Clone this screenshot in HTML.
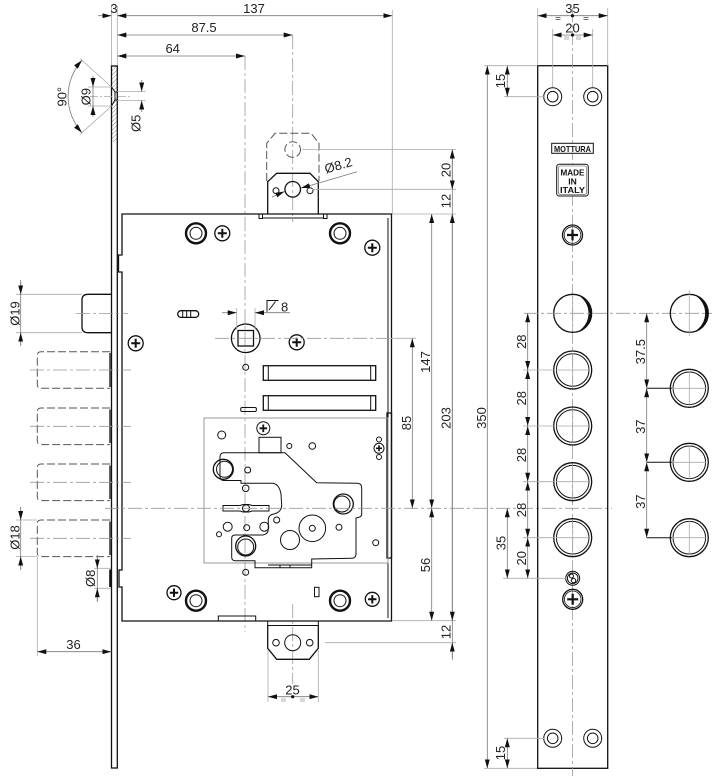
<!DOCTYPE html>
<html><head><meta charset="utf-8"><style>
html,body{margin:0;padding:0;background:#fff;}
svg{display:block;}
.o{stroke:#111;stroke-width:1.3;fill:none;}
.ot{stroke:#111;stroke-width:1;fill:none;}
.d{stroke:#777;stroke-width:0.8;fill:none;}
.e{stroke:#aaa;stroke-width:0.8;fill:none;}
.c{stroke:#999;stroke-width:0.8;fill:none;stroke-dasharray:14 3 3 3;}
.h{stroke:#555;stroke-width:1;fill:none;stroke-dasharray:8 3;}
.rv{stroke:#111;stroke-width:2.4;fill:none;}
text{font-family:"Liberation Sans","DejaVu Sans",sans-serif;font-size:13px;fill:#222;}
.lb{font-weight:bold;font-size:8.5px;fill:#111;}
</style></head><body>
<svg width="726" height="776" viewBox="0 0 726 776" xmlns="http://www.w3.org/2000/svg">
<defs>
<marker id="ar" viewBox="0 0 9 5" refX="9" refY="2.5" markerWidth="9" markerHeight="5" markerUnits="userSpaceOnUse" orient="auto-start-reverse"><path d="M0,0L9,2.5L0,5z" fill="#111"/></marker>
<pattern id="hatch" width="3" height="3" patternUnits="userSpaceOnUse" patternTransform="rotate(45)"><line x1="0" y1="0" x2="0" y2="3" stroke="#666" stroke-width="0.8"/></pattern>
</defs>

<!-- ============ TOP DIMENSIONS ============ -->
<line class="e" x1="111.5" y1="6" x2="111.5" y2="66"/>
<line class="e" x1="117.3" y1="6" x2="117.3" y2="66"/>
<line class="e" x1="392.3" y1="10" x2="392.3" y2="214"/>
<line class="d" x1="98" y1="15.7" x2="111.5" y2="15.7" marker-end="url(#ar)"/>
<line class="d" x1="117.3" y1="15.7" x2="392.3" y2="15.7" marker-start="url(#ar)" marker-end="url(#ar)"/>
<line class="d" x1="117.3" y1="35" x2="292.7" y2="35" marker-start="url(#ar)" marker-end="url(#ar)"/>
<line class="d" x1="117.3" y1="56" x2="245" y2="56" marker-start="url(#ar)" marker-end="url(#ar)"/>
<text x="114" y="13" text-anchor="middle">3</text>
<text x="254" y="13" text-anchor="middle">137</text>
<text x="204" y="32" text-anchor="middle">87.5</text>
<text x="172.7" y="53" text-anchor="middle">64</text>

<!-- centre lines -->
<line class="c" x1="245" y1="56" x2="245" y2="632"/>
<line class="c" x1="292.7" y1="35" x2="292.7" y2="222"/>
<line class="c" x1="292.7" y1="604" x2="292.7" y2="684"/>

<!-- ============ LEFT FACEPLATE ============ -->
<path d="M111.5,66 L117.3,66 L117.3,92 L115,92 L111.5,87 Z" fill="url(#hatch)" stroke="none"/>
<path d="M111.5,106 L115,100 L117.3,100 L117.3,142 L111.5,142 Z" fill="url(#hatch)" stroke="none"/>
<rect class="o" x="111.5" y="66" width="5.8" height="702"/>
<path class="ot" d="M111.5,87 L115,92 L117.3,92 M111.5,106 L115,100 L117.3,100 M115,92 L115,100"/>
<line class="e" x1="90" y1="96.6" x2="132" y2="96.6" stroke-dasharray="8 2 2 2"/>
<!-- 90 deg -->
<line class="e" x1="111.5" y1="87" x2="80" y2="58.5"/>
<line class="e" x1="111.5" y1="106" x2="80" y2="134.5"/>
<path class="d" d="M82,60.3 A54,54 0 0,0 82,132.7"/>
<path d="M82,60.3 L77.8,68.7 L74.1,65.3 Z M82,132.7 L77.8,124.3 L74.1,127.7 Z" fill="#111"/>
<text transform="translate(66.5,96.7) rotate(-90)" text-anchor="middle">90°</text>
<!-- dia 9 -->
<line class="e" x1="88" y1="87" x2="111.5" y2="87"/>
<line class="e" x1="88" y1="106" x2="111.5" y2="106"/>
<line class="d" x1="93" y1="87" x2="93" y2="106"/>
<line class="d" x1="93" y1="76" x2="93" y2="87" marker-end="url(#ar)"/>
<line class="d" x1="93" y1="117" x2="93" y2="106" marker-end="url(#ar)"/>
<text transform="translate(90.5,96.7) rotate(-90)" text-anchor="middle">Ø9</text>
<!-- dia 5 -->
<line class="e" x1="117.3" y1="91.5" x2="146" y2="91.5"/>
<line class="e" x1="117.3" y1="100.5" x2="146" y2="100.5"/>
<line class="d" x1="141.7" y1="80" x2="141.7" y2="91.5" marker-end="url(#ar)"/>
<line class="d" x1="141.7" y1="112" x2="141.7" y2="100.5" marker-end="url(#ar)"/>
<text transform="translate(140.5,123.3) rotate(-90)" text-anchor="middle">Ø5</text>

<!-- ============ LOCK BODY ============ -->
<path class="o" d="M122,214 L391.5,214 L391.5,621 L122,621 L122,587 L119,587 L119,570 L122,570 L122,272 L118.5,272 L118.5,255 L122,255 Z"/>
<line class="ot" x1="388" y1="218" x2="388" y2="618"/>
<rect class="o" x="387" y="413" width="4.5" height="145"/>
<!-- upper strike -->
<path class="o" d="M267.7,214 L267.7,181.7 L276.7,173.3 L310,173.3 L318.3,181.7 L318.3,214"/>
<line class="ot" x1="262" y1="218" x2="324" y2="218"/>
<rect class="ot" x="259" y="214" width="3.5" height="4.5"/>
<rect class="ot" x="323.5" y="214" width="3.5" height="4.5"/>
<circle class="o" cx="292.7" cy="189.3" r="7.8"/>
<circle class="ot" cx="276" cy="190.7" r="3"/>
<circle class="ot" cx="310" cy="190.7" r="3"/>
<path class="h" d="M266.7,181 L266.7,143.3 L275,133.3 L311,133.3 L319,143.3 L319,181"/>
<circle class="h" cx="292.7" cy="149.5" r="7.8" stroke-dasharray="4 2"/>
<!-- dia 8.2 -->
<line class="d" x1="312" y1="185" x2="357" y2="171.7"/>
<line class="d" x1="272" y1="197" x2="284.5" y2="191.5" marker-end="url(#ar)"/>
<line class="d" x1="313" y1="184.7" x2="301" y2="188" marker-end="url(#ar)"/>
<text transform="translate(326,173.5) rotate(-16)">Ø8.2</text>

<!-- rivets & screws top -->
<circle class="rv" cx="196" cy="233.3" r="10"/><circle class="ot" cx="196" cy="233.3" r="6"/>
<circle class="rv" cx="340" cy="233.3" r="10"/><circle class="ot" cx="340" cy="233.3" r="6"/>
<g class="o"><circle cx="222.3" cy="233.3" r="7.5"/><path d="M217.8,233.3H226.8M222.3,228.8V237.8" stroke-width="2"/></g>
<g class="o"><circle cx="372.3" cy="247.7" r="7.5"/><path d="M367.8,247.7H376.8M372.3,243.2V252.2" stroke-width="2"/></g>
<g class="o"><circle cx="135.7" cy="343.3" r="7.5"/><path d="M131.2,343.3H140.2M135.7,338.8V347.8" stroke-width="2"/></g>
<g class="o"><circle cx="296.7" cy="342.3" r="7.5"/><path d="M292.2,342.3H301.2M296.7,337.8V346.8" stroke-width="2"/></g>
<!-- slotted oval -->
<rect class="o" x="177.7" y="310.7" width="21" height="6.7" rx="3.3"/>
<path class="ot" d="M182.7,310.7V317.4M186.7,310.7V317.4M190.7,310.7V317.4"/>
<!-- spindle -->
<circle class="o" cx="245.7" cy="338.3" r="14.3"/>
<rect class="o" x="238" y="330.5" width="15.5" height="15.5"/>
<line class="c" x1="215" y1="338.3" x2="391" y2="338.3"/>
<line class="e" x1="391" y1="338.3" x2="416" y2="338.3"/>
<line class="e" x1="236.7" y1="308" x2="236.7" y2="330"/>
<line class="e" x1="255" y1="308" x2="255" y2="330"/>
<line class="d" x1="222" y1="312.7" x2="236.7" y2="312.7" marker-end="url(#ar)"/>
<line class="d" x1="290" y1="312.7" x2="255" y2="312.7" marker-end="url(#ar)"/>
<path class="ot" d="M267,311.7 V300.5 H278.5 M269,310 L275.5,301.5" stroke-width="0.9"/>
<text x="281" y="311.5">8</text>
<circle class="ot" cx="245.7" cy="367.3" r="3"/>
<!-- slots -->
<rect class="o" x="263.3" y="365.7" width="112.4" height="14.6"/>
<rect class="o" x="263.3" y="395.7" width="112.4" height="14.6"/>
<path class="ot" d="M268.3,365.7V380.3M370.7,365.7V380.3M268.3,395.7V410.3M370.7,395.7V410.3"/>
<rect class="ot" x="240.7" y="407.5" width="15.7" height="4" rx="1.5"/>

<!-- inner plate -->
<rect x="204" y="418" width="184" height="145" fill="none" stroke="#999" stroke-width="1"/>
<circle class="ot" cx="221.7" cy="435" r="4"/>
<g class="ot"><circle cx="263.3" cy="428.3" r="6.5"/><path d="M259.5,428.3H267.1M263.3,424.5V432.1" stroke-width="1.8"/></g>
<rect class="ot" x="259" y="437.3" width="22" height="15.4"/>
<circle class="ot" cx="289.3" cy="446" r="2.5"/>
<circle class="ot" cx="312.3" cy="446" r="3.3"/>
<circle class="ot" cx="379" cy="439.5" r="2.5"/>
<circle class="ot" cx="379" cy="457" r="2.5"/>
<g class="ot"><circle cx="379" cy="448.3" r="5"/><path d="M376,448.3H382M379,445.3V451.3" stroke-width="1.6"/></g>
<!-- cam plate -->
<path class="ot" d="M224,452.7 L285,452.7 L316.7,482.7 L357,483.3 Q361.7,483.3 361.7,488 L361.7,514 Q361.7,517 358,517.5 L356,518 L356,554 Q356,558.3 351.7,558.3 L311.7,559 L311.7,567.7 L255,567.7 L255,560.7 L235,560.7 Q231.7,560.7 231.7,557 L231.7,538.5 Q231.7,535 235,535 L263,535 Q268.3,534 268.3,529 L268.3,519 Q269,514.5 274,514 Q281.7,512 281.7,505 L281,494 Q279,483.3 271.7,483.3 L241,483.3 L241,480.5 L224,480.5 Q220,480.5 220,476 L220,457 Q220,452.7 224,452.7 Z"/>
<path class="ot" d="M268,565 H311.7 M280,565 V567.7 M290,565 V567.7" stroke-width="0.8"/>
<circle class="o" cx="223.3" cy="469.3" r="10" stroke-width="1.6"/><circle class="ot" cx="224.5" cy="469.3" r="8"/>
<circle class="o" cx="343.3" cy="504" r="10" stroke-width="1.6"/><circle class="ot" cx="342" cy="504" r="8"/>
<circle class="o" cx="245.7" cy="546" r="10" stroke-width="1.6"/><circle class="ot" cx="245.7" cy="547" r="8"/>
<circle class="ot" cx="247.7" cy="470" r="3"/>
<circle class="ot" cx="245.7" cy="488.3" r="3.3"/>
<path class="ot" d="M223,505.5 H240 L243,504.5 H249 L252,505.5 H269 V511 H252 L249,512 H243 L240,511 H223 Z"/>
<circle class="ot" cx="246" cy="508.3" r="3.5"/>
<circle class="ot" cx="276.7" cy="520" r="3"/>
<circle class="ot" cx="227.7" cy="526.7" r="4.5"/>
<circle class="ot" cx="264.3" cy="526.7" r="4.5"/>
<circle class="ot" cx="246.7" cy="527.7" r="3"/>
<circle class="ot" cx="219" cy="534.3" r="2.5"/>
<circle class="ot" cx="290" cy="540" r="9.5"/>
<circle class="ot" cx="312.3" cy="528.3" r="13.3"/>
<circle class="ot" cx="312.3" cy="528.3" r="3"/>
<circle class="ot" cx="339" cy="527.3" r="3"/>
<circle class="ot" cx="375.7" cy="542.7" r="3"/>
<circle class="ot" cx="245.7" cy="572.3" r="3"/>
<rect class="ot" x="314.5" y="587.3" width="4.5" height="9.4"/>
<!-- bottom rivets/screws -->
<circle class="rv" cx="196" cy="600.7" r="10"/><circle class="ot" cx="196" cy="600.7" r="6"/>
<circle class="rv" cx="340" cy="600.7" r="10"/><circle class="ot" cx="340" cy="600.7" r="6"/>
<g class="o"><circle cx="174" cy="592.7" r="7"/><path d="M169.8,592.7H178.2M174,588.5V596.9" stroke-width="2"/></g>
<g class="o"><circle cx="372.3" cy="599.3" r="7"/><path d="M368.1,599.3H376.5M372.3,595.1V603.5" stroke-width="2"/></g>
<rect class="ot" x="218.3" y="616" width="37.4" height="5"/>
<!-- lower strike -->
<rect class="ot" x="267.7" y="621" width="50.6" height="4.5"/>
<path class="o" d="M267.7,625 L267.7,648.3 L276.7,659.3 L309.3,659.3 L318.3,648.3 L318.3,625"/>
<circle class="ot" cx="292.7" cy="642.7" r="8"/>
<circle class="ot" cx="276" cy="642.7" r="3.3"/>
<circle class="ot" cx="309.7" cy="642.7" r="3.3"/>
<!-- 25 -->
<line class="e" x1="268" y1="650" x2="268" y2="702"/>
<line class="e" x1="318.3" y1="650" x2="318.3" y2="702"/>
<line class="d" x1="268" y1="696.7" x2="318.3" y2="696.7" marker-start="url(#ar)" marker-end="url(#ar)"/>
<circle cx="292.7" cy="696.7" r="1.6" fill="#111"/>
<path d="M281,699 h5 M281,701 h5 M300,699 h5 M300,701 h5" stroke="#999" stroke-width="0.8"/>
<text x="292.5" y="694.5" text-anchor="middle">25</text>

<!-- ============ LEFT BOLTS ============ -->
<path class="o" d="M111,294.3 L88,294.3 Q82,294.3 82,300 L82,327 Q82,332.7 88,332.7 L111,332.7"/>
<line class="c" x1="76" y1="313.5" x2="128" y2="313.5"/>
<path class="h" d="M110,351.7 L41,351.7 Q37.3,351.7 37.3,355.5 L37.3,384.5 Q37.3,388.3 41,388.3 L110,388.3"/>
<path class="h" d="M110,408 L41,408 Q37.3,408 37.3,411.8 L37.3,440.8 Q37.3,444.6 41,444.6 L110,444.6"/>
<path class="h" d="M110,464 L41,464 Q37.3,464 37.3,467.8 L37.3,496.8 Q37.3,500.6 41,500.6 L110,500.6"/>
<path class="h" d="M110,520 L41,520 Q37.3,520 37.3,523.8 L37.3,552.8 Q37.3,556.6 41,556.6 L110,556.6"/>
<path class="o" d="M110,353V387M110,409.5V443M110,465.5V499M110,521.5V555" stroke-width="1.2"/>
<line class="c" x1="30" y1="370" x2="131" y2="370"/>
<line class="c" x1="30" y1="426.3" x2="131" y2="426.3"/>
<line class="c" x1="30" y1="482.3" x2="131" y2="482.3"/>
<line class="c" x1="30" y1="538.3" x2="131" y2="538.3"/>
<!-- dia 19 -->
<line class="e" x1="16" y1="294.3" x2="82" y2="294.3"/>
<line class="e" x1="16" y1="332.7" x2="82" y2="332.7"/>
<line class="d" x1="20.7" y1="280" x2="20.7" y2="346"/>
<line class="d" x1="20.7" y1="282" x2="20.7" y2="294.3" marker-end="url(#ar)"/>
<line class="d" x1="20.7" y1="345" x2="20.7" y2="332.7" marker-end="url(#ar)"/>
<text transform="translate(19.5,313.5) rotate(-90)" text-anchor="middle">Ø19</text>
<!-- dia 18 -->
<line class="e" x1="16" y1="520" x2="37.3" y2="520"/>
<line class="e" x1="16" y1="556.6" x2="37.3" y2="556.6"/>
<line class="d" x1="20.7" y1="507" x2="20.7" y2="570"/>
<line class="d" x1="20.7" y1="508" x2="20.7" y2="520" marker-end="url(#ar)"/>
<line class="d" x1="20.7" y1="569" x2="20.7" y2="556.6" marker-end="url(#ar)"/>
<text transform="translate(19.5,537.5) rotate(-90)" text-anchor="middle">Ø18</text>
<!-- dia 8 -->
<line class="e" x1="94" y1="568.3" x2="111" y2="568.3"/>
<line class="e" x1="94" y1="588.3" x2="111" y2="588.3"/>
<line class="d" x1="97.3" y1="555" x2="97.3" y2="602"/>
<line class="d" x1="97.3" y1="556" x2="97.3" y2="568.3" marker-end="url(#ar)"/>
<line class="d" x1="97.3" y1="601" x2="97.3" y2="588.3" marker-end="url(#ar)"/>
<line x1="110.3" y1="569.5" x2="110.3" y2="587" stroke="#111" stroke-width="2.2"/>
<text transform="translate(95,578.3) rotate(-90)" text-anchor="middle">Ø8</text>
<!-- 36 -->
<line class="e" x1="37.3" y1="557" x2="37.3" y2="656"/>
<line class="d" x1="37.3" y1="651.7" x2="111.3" y2="651.7" marker-start="url(#ar)" marker-end="url(#ar)"/>
<text x="73.5" y="649" text-anchor="middle">36</text>

<!-- long centre line -->
<line class="c" x1="105" y1="508.3" x2="612" y2="508.3"/>

<!-- ============ BODY RIGHT DIMENSIONS ============ -->
<line class="e" x1="302" y1="149.5" x2="456" y2="149.5"/>
<line class="e" x1="312" y1="189.3" x2="456" y2="189.3"/>
<line class="e" x1="392" y1="214" x2="456" y2="214"/>
<line class="e" x1="392" y1="620.7" x2="456" y2="620.7"/>
<line class="e" x1="325" y1="642.7" x2="456" y2="642.7"/>
<line class="d" x1="452.3" y1="149.5" x2="452.3" y2="660"/>
<line class="d" x1="452.3" y1="149.5" x2="452.3" y2="189.3" marker-start="url(#ar)" marker-end="url(#ar)"/>
<line class="d" x1="452.3" y1="214" x2="452.3" y2="620.7" marker-start="url(#ar)" marker-end="url(#ar)"/>
<line class="d" x1="452.3" y1="642.7" x2="452.3" y2="658" marker-start="url(#ar)"/>
<line class="d" x1="431.7" y1="214" x2="431.7" y2="508.3" marker-start="url(#ar)" marker-end="url(#ar)"/>
<line class="d" x1="431.7" y1="508.3" x2="431.7" y2="620.7" marker-start="url(#ar)" marker-end="url(#ar)"/>
<line class="d" x1="412.3" y1="338.3" x2="412.3" y2="508.3" marker-start="url(#ar)" marker-end="url(#ar)"/>
<text transform="translate(450.5,170) rotate(-90)" text-anchor="middle">20</text>
<text transform="translate(450.5,201) rotate(-90)" text-anchor="middle">12</text>
<text transform="translate(430,362) rotate(-90)" text-anchor="middle">147</text>
<text transform="translate(450.5,418) rotate(-90)" text-anchor="middle">203</text>
<text transform="translate(411,423) rotate(-90)" text-anchor="middle">85</text>
<text transform="translate(430,565) rotate(-90)" text-anchor="middle">56</text>
<text transform="translate(450.5,632) rotate(-90)" text-anchor="middle">12</text>

<!-- 350 -->
<line class="e" x1="484" y1="65.7" x2="538" y2="65.7"/>
<line class="e" x1="484" y1="768.3" x2="538" y2="768.3"/>
<line class="d" x1="487.3" y1="65.7" x2="487.3" y2="768.3" marker-start="url(#ar)" marker-end="url(#ar)"/>
<text transform="translate(486,418) rotate(-90)" text-anchor="middle">350</text>

<!-- ============ RIGHT FACEPLATE ============ -->
<rect class="o" x="537.7" y="65.7" width="70" height="702.6" stroke-width="1.2"/>
<line class="c" x1="572.5" y1="8" x2="572.5" y2="776"/>
<line class="e" x1="537.7" y1="8" x2="537.7" y2="65.7"/>
<line class="e" x1="607.7" y1="8" x2="607.7" y2="65.7"/>
<line class="e" x1="552.7" y1="29" x2="552.7" y2="88"/>
<line class="e" x1="592.7" y1="29" x2="592.7" y2="88"/>
<line class="d" x1="537.7" y1="15.7" x2="607.7" y2="15.7" marker-start="url(#ar)" marker-end="url(#ar)"/>
<line class="d" x1="552.7" y1="35" x2="592.7" y2="35" marker-start="url(#ar)" marker-end="url(#ar)"/>
<circle cx="572.5" cy="15.7" r="1.6" fill="#111"/>
<circle cx="572.5" cy="35" r="1.6" fill="#111"/>
<path d="M555.5,17.5h5M555.5,19.5h5M583.5,17.5h5M583.5,19.5h5" stroke="#444" stroke-width="0.8"/>
<path d="M564,37h5M564,39h5M576,37h5M576,39h5" stroke="#999" stroke-width="0.8"/>
<text x="572.5" y="13" text-anchor="middle">35</text>
<text x="572.5" y="32.5" text-anchor="middle">20</text>
<!-- holes -->
<circle class="ot" cx="552.7" cy="96.7" r="9"/><circle class="ot" cx="552.7" cy="96.7" r="5.3"/>
<circle class="ot" cx="592.7" cy="96.7" r="9"/><circle class="ot" cx="592.7" cy="96.7" r="5.3"/>
<circle class="ot" cx="552.7" cy="738.3" r="9"/><circle class="ot" cx="552.7" cy="738.3" r="5.3"/>
<circle class="ot" cx="592.7" cy="738.3" r="9"/><circle class="ot" cx="592.7" cy="738.3" r="5.3"/>
<!-- 15 dims -->
<line class="e" x1="504" y1="96.7" x2="545" y2="96.7"/>
<line class="e" x1="504" y1="738.3" x2="545" y2="738.3"/>
<line class="d" x1="507.3" y1="65.7" x2="507.3" y2="96.7" marker-start="url(#ar)" marker-end="url(#ar)"/>
<line class="d" x1="507.3" y1="738.3" x2="507.3" y2="768.3" marker-start="url(#ar)" marker-end="url(#ar)"/>
<text transform="translate(505,81) rotate(-90)" text-anchor="middle">15</text>
<text transform="translate(505,753) rotate(-90)" text-anchor="middle">15</text>
<!-- labels -->
<rect x="551.7" y="143.3" width="41.6" height="10" fill="#fff" stroke="#111" stroke-width="1"/>
<text class="lb" x="572.5" y="151.8" text-anchor="middle" textLength="37" lengthAdjust="spacingAndGlyphs">MOTTURA</text>
<rect x="556.7" y="164.3" width="31.6" height="31.7" rx="2.5" fill="#fff" stroke="#111" stroke-width="1"/>
<rect x="558.5" y="166" width="28" height="28.3" rx="1.5" fill="none" stroke="#555" stroke-width="0.6"/>
<text class="lb" x="572.5" y="175.5" text-anchor="middle" textLength="24" lengthAdjust="spacingAndGlyphs">MADE</text>
<text class="lb" x="572.5" y="184.5" text-anchor="middle">IN</text>
<text class="lb" x="572.5" y="193" text-anchor="middle" textLength="25" lengthAdjust="spacingAndGlyphs">ITALY</text>
<g class="o"><circle cx="572.5" cy="235" r="10"/><circle cx="572.5" cy="235" r="8.3" stroke-width="0.8"/><path d="M567,235H578M572.5,229.5V240.5" stroke-width="2.2"/></g>
<!-- faceplate bolts -->
<circle class="o" cx="572.7" cy="313.3" r="19"/>
<path d="M578,295.1 A19,19 0 0,1 578,331.5 A21,21 0 0,0 578,295.1 Z" fill="#111"/>
<circle class="o" cx="572.7" cy="370" r="19"/><circle class="ot" cx="572.7" cy="370" r="16.3"/>
<circle class="o" cx="572.7" cy="426" r="19"/><circle class="ot" cx="572.7" cy="426" r="16.3"/>
<circle class="o" cx="572.7" cy="481.7" r="19"/><circle class="ot" cx="572.7" cy="481.7" r="16.3"/>
<circle class="o" cx="572.7" cy="537.7" r="19"/><circle class="ot" cx="572.7" cy="537.7" r="16.3"/>
<circle class="ot" cx="572.7" cy="578.3" r="7"/><circle class="ot" cx="572.7" cy="578.3" r="5.3"/>
<circle class="ot" cx="571.5" cy="576" r="2" stroke-width="0.8"/><circle class="ot" cx="573.5" cy="580.5" r="2.2" stroke-width="0.8"/>
<g class="o"><circle cx="572.7" cy="599.3" r="10"/><circle cx="572.7" cy="599.3" r="8.3" stroke-width="0.8"/><path d="M567.2,599.3H578.2M572.7,593.8V604.8" stroke-width="2.2"/></g>
<!-- dim chain faceplate -->
<line class="c" x1="524" y1="313.3" x2="712" y2="313.3"/>
<line class="e" x1="523" y1="370" x2="555" y2="370"/>
<line class="e" x1="523" y1="426" x2="555" y2="426"/>
<line class="e" x1="523" y1="481.7" x2="555" y2="481.7"/>
<line class="e" x1="523" y1="537.7" x2="555" y2="537.7"/>
<line class="e" x1="503" y1="578.3" x2="566" y2="578.3"/>
<line class="d" x1="527.7" y1="313.3" x2="527.7" y2="370" marker-start="url(#ar)" marker-end="url(#ar)"/>
<line class="d" x1="527.7" y1="370" x2="527.7" y2="426" marker-start="url(#ar)" marker-end="url(#ar)"/>
<line class="d" x1="527.7" y1="426" x2="527.7" y2="481.7" marker-start="url(#ar)" marker-end="url(#ar)"/>
<line class="d" x1="527.7" y1="481.7" x2="527.7" y2="537.7" marker-start="url(#ar)" marker-end="url(#ar)"/>
<line class="d" x1="527.7" y1="537.7" x2="527.7" y2="578.3" marker-start="url(#ar)" marker-end="url(#ar)"/>
<line class="d" x1="507.3" y1="508.3" x2="507.3" y2="578.3" marker-start="url(#ar)" marker-end="url(#ar)"/>
<text transform="translate(526,341.7) rotate(-90)" text-anchor="middle">28</text>
<text transform="translate(526,398.3) rotate(-90)" text-anchor="middle">28</text>
<text transform="translate(526,455) rotate(-90)" text-anchor="middle">28</text>
<text transform="translate(526,510) rotate(-90)" text-anchor="middle">28</text>
<text transform="translate(526,558.3) rotate(-90)" text-anchor="middle">20</text>
<text transform="translate(505.5,543) rotate(-90)" text-anchor="middle">35</text>

<!-- ============ RIGHT BOLTS (end view) ============ -->
<circle class="o" cx="689.3" cy="313.3" r="19"/>
<path d="M694.6,295.1 A19,19 0 0,1 694.6,331.5 A21,21 0 0,0 694.6,295.1 Z" fill="#111"/>
<line class="e" x1="689.3" y1="290" x2="689.3" y2="336"/>
<circle class="o" cx="689.3" cy="388.3" r="19"/><circle class="ot" cx="689.3" cy="388.3" r="16.3"/>
<circle class="o" cx="689.3" cy="462.3" r="19"/><circle class="ot" cx="689.3" cy="462.3" r="16.3"/>
<circle class="o" cx="689.3" cy="537.7" r="19"/><circle class="ot" cx="689.3" cy="537.7" r="16.3"/>
<path class="e" d="M672,388.3H706M689.3,371V405.6M672,462.3H706M689.3,445V479.6M672,537.7H706M689.3,520.4V555"/>
<path class="e" d="M556,370H589M572.7,353V387M556,426H589M572.7,409V443M556,481.7H589M572.7,465V498.4M556,537.7H589M572.7,521V554.4M572.7,296V330"/>
<line class="ot" x1="646.7" y1="388.3" x2="672" y2="388.3"/>
<line class="ot" x1="646.7" y1="462.3" x2="672" y2="462.3"/>
<line class="ot" x1="646.7" y1="537.7" x2="672" y2="537.7"/>
<line class="d" x1="646.7" y1="313.3" x2="646.7" y2="388.3" marker-start="url(#ar)" marker-end="url(#ar)"/>
<line class="d" x1="646.7" y1="388.3" x2="646.7" y2="462.3" marker-start="url(#ar)" marker-end="url(#ar)"/>
<line class="d" x1="646.7" y1="462.3" x2="646.7" y2="537.7" marker-start="url(#ar)" marker-end="url(#ar)"/>
<text transform="translate(645,351.7) rotate(-90)" text-anchor="middle">37.5</text>
<text transform="translate(645,426.7) rotate(-90)" text-anchor="middle">37</text>
<text transform="translate(645,501.7) rotate(-90)" text-anchor="middle">37</text>
</svg>
</body></html>
